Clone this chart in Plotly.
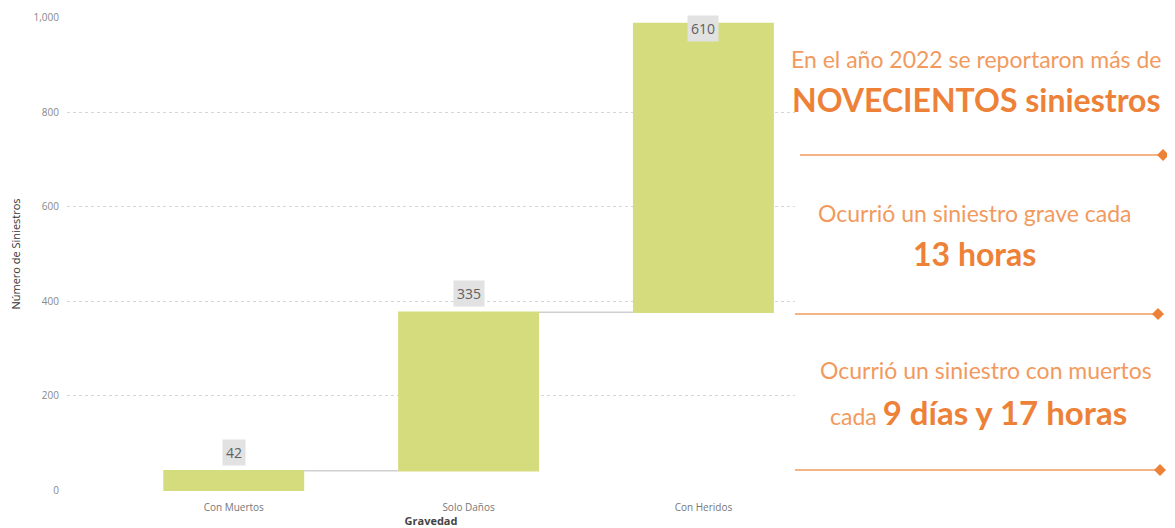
import plotly.graph_objects as go

categories = ["Con Muertos", "Solo Daños", "Con Heridos"]
values = [42, 335, 610]
y_ticks = [0, 200, 400, 600, 800, 1000]

OFF = 8  # page body margin
W, H = 1167, 520
L, R, T, B = 59, 380, 9, 37
pw, ph = W - L - R, H - T - B

def px_x(px):
    return (px - OFF - L) / pw

def px_y(py):
    return (H + OFF - B - py) / ph

BAR = "#D5DC7E"
ORANGE = "#EE8138"
ORANGE_L = "#F29A5E"

fig = go.Figure(go.Waterfall(
    x=categories, y=values, measure=["relative"] * len(values),
    increasing=dict(marker=dict(color=BAR)),
    decreasing=dict(marker=dict(color=BAR)),
    connector=dict(line=dict(color="#cfcfcf", width=1.5), mode="between"),
    width=0.6, textposition="none", hoverinfo="skip", showlegend=False,
))

ymax = 1000
cum = 0
anns = []
for c, v in zip(categories, values):
    cum += v
    y = cum
    shift = 5
    anchor = "bottom"
    if cum > ymax * 0.95:
        y = ymax
        anchor = "top"
        shift = 2
    anns.append(dict(x=c, y=y, xref="x", yref="y", text=f"{v:,}", showarrow=False,
                     yanchor=anchor, yshift=shift, bgcolor="#e2e2e2", borderpad=3,
                     font=dict(family="Open Sans", size=14, color="#606060")))

def txt(text, px, py, size, color):
    return dict(x=px_x(px), y=px_y(py), xref="paper", yref="paper", text=text,
                showarrow=False, xanchor="center", yanchor="middle",
                font=dict(family="Lato", size=size, color=color))

anns += [
    txt("En el año 2022 se reportaron más de", 976, 59, 23, ORANGE_L),
    txt("<b>NOVECIENTOS siniestros</b>", 976, 100, 32, ORANGE),
    txt("Ocurrió un siniestro grave cada", 974, 213, 23, ORANGE_L),
    txt("<b>13 horas</b>", 974, 253, 32, ORANGE),
    txt("Ocurrió un siniestro con muertos", 986, 370, 23, ORANGE_L),
    txt("cada <b><span style='font-size:33px;color:%s'>9 días y 17 horas</span></b>" % ORANGE, 978, 412, 23, ORANGE_L),
]

shapes = []
for x0, x1, yy in [(800, 1163, 155), (795, 1158, 314), (795, 1160, 470)]:
    shapes.append(dict(type="line", xref="paper", yref="paper",
                       x0=px_x(x0), x1=px_x(x1), y0=px_y(yy), y1=px_y(yy),
                       line=dict(color=ORANGE_L, width=1.5)))
    d = 6
    path = "M {} {} L {} {} L {} {} L {} {} Z".format(
        px_x(x1 - d), px_y(yy), px_x(x1), px_y(yy - d), px_x(x1 + d), px_y(yy), px_x(x1), px_y(yy + d))
    shapes.append(dict(type="path", xref="paper", yref="paper", path=path,
                       fillcolor=ORANGE, line=dict(color=ORANGE, width=0)))

fig.update_layout(
    width=W, height=H, margin=dict(l=L, r=R, t=T, b=B, autoexpand=False),
    paper_bgcolor="white", plot_bgcolor="white",
    annotations=anns, shapes=shapes,
    xaxis=dict(range=[-0.71, 2.39], showgrid=False, zeroline=False, showline=False,
               automargin=False, ticks="outside", ticklen=7, tickcolor="rgba(0,0,0,0)",
               tickfont=dict(family="Open Sans", size=10, color="#777777"),
               title=dict(text="<b>Gravedad</b>", standoff=3,
                          font=dict(family="Open Sans", size=11, color="#444444"))),
    yaxis=dict(range=[-1, 1001], tickvals=y_ticks, tickformat=",", showgrid=True,
               automargin=False, ticks="outside", ticklen=5, tickcolor="rgba(0,0,0,0)",
               gridcolor="#d6d6d6", griddash="dot", gridwidth=1, zeroline=False,
               tickfont=dict(family="Open Sans", size=10, color="#888888"),
               title=dict(text="Número de Siniestros", standoff=22,
                          font=dict(family="Open Sans", size=11, color="#333333"))),
)

fig.write_html("out.html")
